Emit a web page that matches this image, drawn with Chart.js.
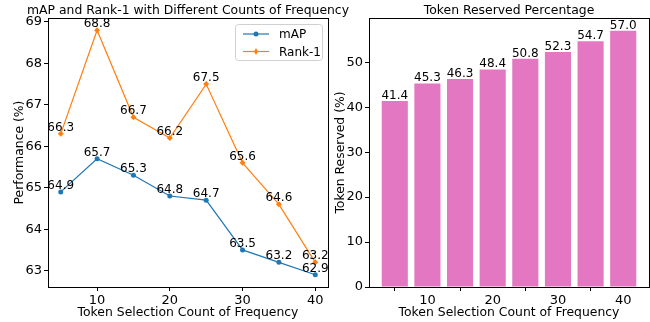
<!DOCTYPE html>
<html>
<head>
<meta charset="utf-8">
<script src="https://cdn.jsdelivr.net/npm/chart.js@4.4.1/dist/chart.umd.min.js"></script>
<style>
  html, body { margin: 0; padding: 0; background: #fff; }
  #wrap { position: relative; width: 650px; height: 322px; }
  #wrap canvas { position: absolute; left: 0; top: 0; }
</style>
</head>
<body>
<div id="wrap">
  <canvas id="perf" width="650" height="322"></canvas>
  <canvas id="tokens" width="650" height="322"></canvas>
</div>
<script>
// Token selection counts (x values shared by both panels)
const counts = [5, 10, 15, 20, 25, 30, 35, 40];
// Retrieval metrics (%)
const mapValues = [64.9, 65.7, 65.3, 64.8, 64.7, 63.5, 63.2, 62.9];
const rank1Values = [66.3, 68.8, 66.7, 66.2, 67.5, 65.6, 64.6, 63.2];
// Share of tokens kept (%)
const reservedValues = [41.4, 45.3, 46.3, 48.4, 50.8, 52.3, 54.7, 57.0];
// Tick labels
const xTicks = [10, 20, 30, 40];
const perfTicks = [63, 64, 65, 66, 67, 68, 69];
const reservedTicks = [0, 10, 20, 30, 40, 50];

const FONT = "'DejaVu Sans', sans-serif";
const BLUE = '#1f77b4', ORANGE = '#ff7f0e', PINK = '#e377c2';
const LABEL_SIZE = 12.4;

Chart.defaults.font.family = FONT;
Chart.defaults.color = '#000';
Chart.defaults.animation = false;

// 5% auto margins like a default axis
function padRange(lo, hi, frac) {
  const p = (hi - lo) * frac;
  return [lo - p, hi + p];
}
const perfRange = padRange(Math.min(...mapValues, ...rank1Values), Math.max(...mapValues, ...rank1Values), 0.05);
const lineX = padRange(Math.min(...counts), Math.max(...counts), 0.05);
const barX = padRange(Math.min(...counts) - 2, Math.max(...counts) + 2, 0.05);

function fixedTicks(list) {
  return function (scale) { scale.ticks = list.map(v => ({ value: v })); };
}

// Frame, panel title, value labels and optional legend
function panelDecor(opts) {
  return {
    id: 'panelDecor',
    afterDatasetsDraw(chart) {
      const ctx = chart.ctx;
      const a = chart.chartArea;
      ctx.save();
      // axes frame
      ctx.strokeStyle = '#000';
      ctx.lineWidth = 1;
      ctx.strokeRect(Math.round(a.left) + 0.5, Math.round(a.top) + 0.5,
                     Math.round(a.right - a.left), Math.round(a.bottom - a.top));
      // title
      ctx.fillStyle = '#000';
      ctx.font = LABEL_SIZE + 'px ' + FONT;
      ctx.textAlign = 'center';
      ctx.textBaseline = 'alphabetic';
      ctx.fillText(opts.title, (a.left + a.right) / 2, a.top - 4);
      // value labels
      ctx.font = '12px ' + FONT;
      chart.data.datasets.forEach((ds, i) => {
        const meta = chart.getDatasetMeta(i);
        meta.data.forEach((el, j) => {
          const v = chart.data.datasets[i].data[j];
          const val = typeof v === 'object' ? v.y : v;
          const y = opts.bars ? el.y - 2 : el.y - 3;
          ctx.fillText(val.toFixed(1), el.x, y);
        });
      });
      // legend
      if (opts.legend) {
        const bx = 235, by = 24.5, bw = 87, bh = 36;
        ctx.beginPath();
        ctx.roundRect(bx + 0.5, by, bw, bh, 3);
        ctx.fillStyle = 'rgba(255,255,255,0.8)';
        ctx.fill();
        ctx.strokeStyle = '#d0d0d0';
        ctx.stroke();
        ctx.font = '12px ' + FONT;
        chart.data.datasets.forEach((ds, i) => {
          const ly = by + 9.5 + i * 17.5;
          ctx.strokeStyle = ds.borderColor;
          ctx.lineWidth = 1.2;
          ctx.beginPath();
          ctx.moveTo(bx + 8, ly);
          ctx.lineTo(bx + 34, ly);
          ctx.stroke();
          ctx.fillStyle = ds.borderColor;
          ctx.beginPath();
          if (ds.pointStyle === 'circle') {
            ctx.arc(bx + 21, ly, 2.5, 0, Math.PI * 2);
          } else {
            ctx.moveTo(bx + 21, ly - 3.5);
            ctx.lineTo(bx + 23, ly);
            ctx.lineTo(bx + 21, ly + 3.5);
            ctx.lineTo(bx + 19, ly);
            ctx.closePath();
          }
          ctx.fill();
          ctx.fillStyle = '#000';
          ctx.textAlign = 'left';
          ctx.textBaseline = 'middle';
          ctx.fillText(ds.label, bx + 44, ly + 1);
        });
      }
      ctx.restore();
    }
  };
}

function axisCommon(extra) {
  return Object.assign({
    type: 'linear',
    offset: false,
    grid: { display: true, drawOnChartArea: false, drawTicks: true, tickLength: 4, color: '#000', lineWidth: 1 },
    border: { display: false },
    ticks: { font: { size: 13 }, color: '#000', padding: 2, maxRotation: 0, autoSkip: false }
  }, extra);
}

function pointsOf(values) {
  return counts.map((c, i) => ({ x: c, y: values[i] }));
}

// Left panel: mAP and Rank-1 curves
new Chart(document.getElementById('perf'), {
  type: 'line',
  data: {
    datasets: [
      { label: 'mAP', data: pointsOf(mapValues), borderColor: BLUE, backgroundColor: BLUE,
        borderWidth: 1.2, pointStyle: 'circle', pointRadius: 2.5, pointBorderWidth: 0, tension: 0 },
      { label: 'Rank-1', data: pointsOf(rank1Values), borderColor: ORANGE, backgroundColor: ORANGE,
        borderWidth: 1.2, pointStyle: 'rectRot', pointRadius: 3, pointBorderWidth: 0, tension: 0 }
    ]
  },
  options: {
    responsive: false,
    layout: { padding: { left: 0, right: 322, top: 18, bottom: 0 } },
    plugins: { legend: { display: false }, tooltip: { enabled: false } },
    scales: {
      x: axisCommon({
        min: lineX[0], max: lineX[1],
        afterBuildTicks: fixedTicks(xTicks),
        afterFit(s) { s.height = 35; },
        title: { display: true, text: 'Token Selection Count of Frequency', font: { size: LABEL_SIZE }, color: '#000', padding: { top: 0, bottom: 2 } }
      }),
      y: axisCommon({
        min: perfRange[0], max: perfRange[1],
        afterBuildTicks: fixedTicks(perfTicks),
        afterFit(s) { s.width = 48; },
        title: { display: true, text: 'Performance (%)', font: { size: LABEL_SIZE }, color: '#000', padding: { top: 12, bottom: 0 } }
      })
    }
  },
  plugins: [panelDecor({ title: 'mAP and Rank-1 with Different Counts of Frequency', legend: true })]
});

// Right panel: reserved-token percentage bars
new Chart(document.getElementById('tokens'), {
  type: 'bar',
  data: {
    datasets: [
      { label: 'Token Reserved', data: pointsOf(reservedValues), backgroundColor: PINK,
        borderWidth: 0, barPercentage: 0.8, categoryPercentage: 1.0 }
    ]
  },
  options: {
    responsive: false,
    layout: { padding: { left: 329, right: 1, top: 18, bottom: 0 } },
    plugins: { legend: { display: false }, tooltip: { enabled: false } },
    scales: {
      x: axisCommon({
        min: barX[0], max: barX[1],
        afterBuildTicks: fixedTicks(xTicks),
        afterFit(s) { s.height = 35; },
        title: { display: true, text: 'Token Selection Count of Frequency', font: { size: LABEL_SIZE }, color: '#000', padding: { top: 0, bottom: 2 } }
      }),
      y: axisCommon({
        min: 0, max: Math.max(...reservedValues) * 1.05,
        afterBuildTicks: fixedTicks(reservedTicks),
        afterFit(s) { s.width = 40; },
        title: { display: true, text: 'Token Reserved (%)', font: { size: LABEL_SIZE }, color: '#000', padding: { top: 4, bottom: 0 } }
      })
    }
  },
  plugins: [panelDecor({ title: 'Token Reserved Percentage', bars: true })]
});
</script>
</body>
</html>
